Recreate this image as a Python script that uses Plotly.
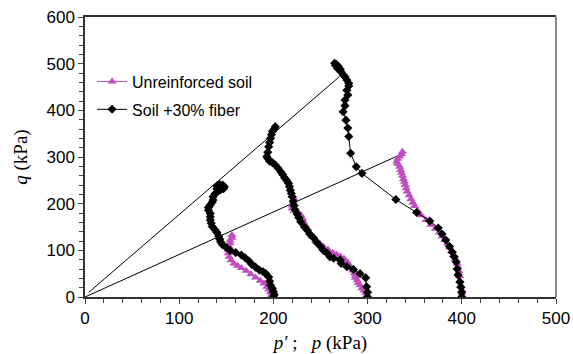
import plotly.graph_objects as go

# Soil + 30% fiber stress paths (p, q) in kPa
fib200_p = [200,201,200,199,197,196,195,192,189,185,181,177,174,170,166,160,154,150,146,144,143,142,140,138,135,134,133,133,133,131,131,133,135,136,136,138,141,140,140,143,146,148,147,144]
fib200_q = [0,5,11,18,25,34,43,50,54,58,64,70,77,84,90,95,100,106,112,118,124,130,138,144,151,158,165,172,179,186,192,197,203,208,215,221,226,232,238,241,240,236,232,230]

fib300_p = [300,300,299,298,292,285,278,272,271,264,260,257,253,250,246,243,239,236,233,229,227,225,223,222,221,220,219,218,217,216,214,212,210,208,205,202,199,196,194,193,194,195,196,197,198,199,201,202]
fib300_q = [0,10,22,41,50,59,65,72,79,83,86,94,100,108,117,126,134,143,150,161,170,178,187,196,205,215,222,229,237,244,250,255,262,268,276,283,288,291,297,301,310,322,331,340,348,355,360,365]

fib400_p = [400,400,399,398,396,395,394,392,390,387,383,379,375,366,352,330,294,288,282,280,279,277,274,276,276,279,278,280,280,278,276,274,272,271,269,267,265,266,268]
fib400_q = [0,10,21,32,47,60,75,86,96,108,122,135,148,163,181,209,265,279,308,344,362,379,397,410,422,433,443,452,458,465,472,476,482,488,494,498,501,496,490]

# Unreinforced soil stress paths
unr200_p = [200,198,197,195,193,190,186,181,176,171,166,162,158,155,153,152,152,153,154,154,156,156]
unr200_q = [0,5,10,16,22,29,35,42,49,56,62,67,72,79,86,94,101,108,115,121,127,133]

unr300_p = [300,299,298,296,294,292,290,289,287,287,286,284,282,280,278,275,271,267,263,258,253,249,245,241,238,236,234,232,231,229,226,222,220,220,221,222]
unr300_q = [0,4,9,14,19,25,30,36,41,46,51,57,63,70,76,82,87,91,95,101,108,115,121,130,138,146,154,161,168,176,181,185,190,196,203,211]

unr400_p = [400,400,400,399,398,398,397,396,395,393,391,389,387,385,382,379,376,372,367,362,357,353,350,348,346,344,342,341,340,339,338,337,336,335,334,332,331,332,334,336,337]
unr400_q = [0,8,15,25,35,45,55,65,72,82,90,98,106,114,122,130,138,146,155,165,175,185,195,202,210,218,226,233,240,247,253,260,266,272,279,285,290,296,301,306,311]

# Failure envelopes
env1_p = [4, 270]
env1_q = [10, 472]
env2_p = [0, 337]
env2_q = [0, 307]

x_ticks = [0, 100, 200, 300, 400, 500]
y_ticks = [0, 100, 200, 300, 400, 500, 600]

MAG = "#C04EC0"
fig = go.Figure()

for px, qy in [(env1_p, env1_q), (env2_p, env2_q)]:
    fig.add_trace(go.Scatter(x=px, y=qy, mode="lines", line=dict(color="black", width=1),
                             showlegend=False, hoverinfo="skip"))

first = True
for px, qy in [(unr200_p, unr200_q), (unr300_p, unr300_q), (unr400_p, unr400_q)]:
    fig.add_trace(go.Scatter(x=px, y=qy, mode="lines+markers", name="Unreinforced soil",
                             line=dict(color=MAG, width=1),
                             marker=dict(symbol="triangle-up", size=8, color=MAG),
                             legendgroup="a", showlegend=first))
    first = False

first = True
for px, qy in [(fib200_p, fib200_q), (fib300_p, fib300_q), (fib400_p, fib400_q)]:
    fig.add_trace(go.Scatter(x=px, y=qy, mode="lines+markers", name="Soil +30% fiber",
                             line=dict(color="black", width=1),
                             marker=dict(symbol="diamond", size=7, color="black"),
                             legendgroup="b", showlegend=first))
    first = False

fig.update_layout(
    width=573, height=354,
    margin=dict(l=85, r=17, t=17, b=57),
    plot_bgcolor="white", paper_bgcolor="white",
    font=dict(family="Liberation Sans, Arial", size=17, color="black"),
    legend=dict(x=0.015, y=0.83, xanchor="left", yanchor="top",
                font=dict(size=16), bgcolor="rgba(0,0,0,0)",
                tracegroupgap=4),
    xaxis=dict(range=[0, 500], tickvals=x_ticks, ticks="outside", ticklen=5,
               tickcolor="#444", linecolor="#333", linewidth=1.5, mirror=True,
               showgrid=False, zeroline=False, automargin=False,
               minor=dict(dtick=20, ticks="outside", ticklen=4, tickcolor="#444"),
               title=dict(text="<i>p′</i> ;   <i>p</i> (kPa)",
                          font=dict(family="Liberation Serif", size=19), standoff=10)),
    yaxis=dict(range=[0, 600], tickvals=y_ticks, ticks="outside", ticklen=5,
               tickcolor="#444", linecolor="#333", linewidth=1.5,
               showgrid=False, zeroline=False, automargin=False,
               minor=dict(dtick=20, ticks="outside", ticklen=4, tickcolor="#444"),
               title=dict(text="<i>q</i> (kPa)",
                          font=dict(family="Liberation Serif", size=19), standoff=14)),
    shapes=[dict(type="line", xref="paper", yref="paper", x0=1, x1=1, y0=0, y1=1,
                 line=dict(color="#888", width=2))],
)

fig.write_html("out.html")
